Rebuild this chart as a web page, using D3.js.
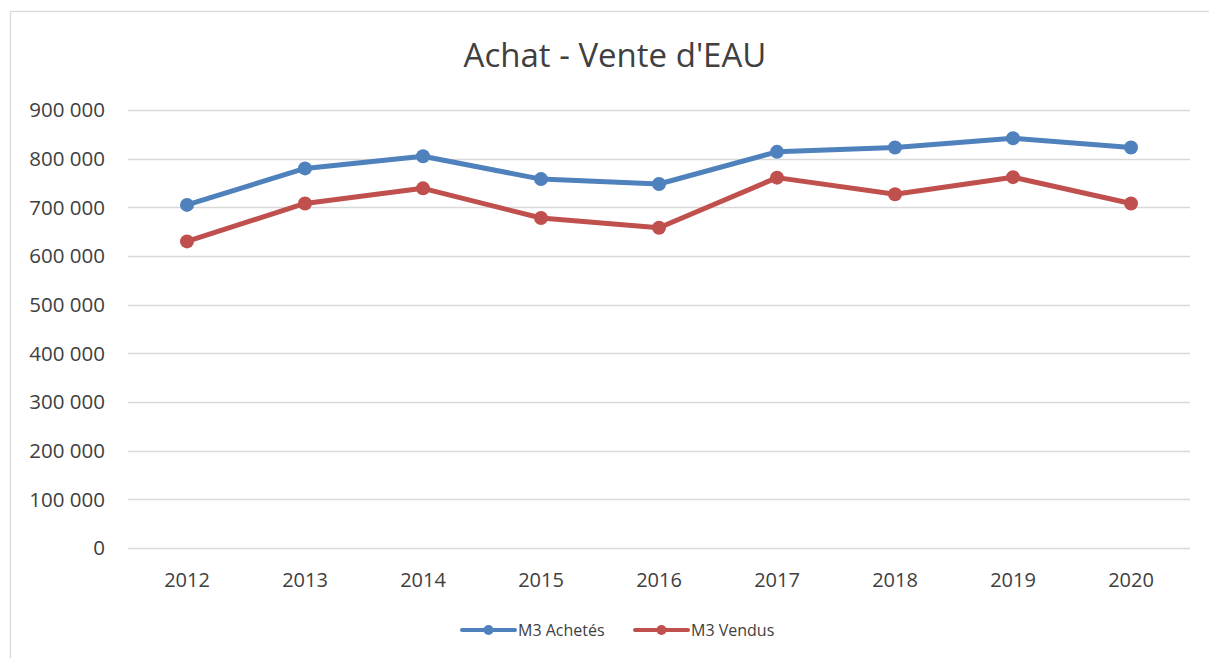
<!DOCTYPE html>
<html>
<head>
<meta charset="utf-8">
<script src="https://cdn.jsdelivr.net/npm/d3@7"></script>
<style>
  body { margin: 0; background: #fff; }
  text { font-family: "Open Sans", "Noto Sans", sans-serif; fill: #404040; }
</style>
</head>
<body>
<div id="chart"></div>
<script>
var years = ["2012", "2013", "2014", "2015", "2016", "2017", "2018", "2019", "2020"];
var achetes = [705000, 780000, 805000, 758000, 748000, 814000, 823000, 842000, 823000];
var vendus = [630000, 708000, 739000, 678000, 658000, 761000, 727000, 762000, 708000];
var yTicks = [0, 100000, 200000, 300000, 400000, 500000, 600000, 700000, 800000, 900000];

var width = 1209, height = 658;
var svg = d3.select("#chart").append("svg").attr("width", width).attr("height", height);

// chart frame
svg.append("rect").attr("x", 10.5).attr("y", 11.5).attr("width", 1220).attr("height", 700)
  .attr("fill", "none").attr("stroke", "#d9d9d9").attr("stroke-width", 1.3);

var x = d3.scaleBand().domain(years).range([128, 1190]);
var y = d3.scaleLinear().domain([0, 900000]).range([548, 110]);

function fmt(d) {
  return d3.format(",")(d).replace(/,/g, " ");
}

// gridlines
svg.append("g").selectAll("line").data(yTicks).enter().append("line")
  .attr("x1", 128).attr("x2", 1190)
  .attr("y1", function(d) { return Math.round(y(d)) + 0.5; })
  .attr("y2", function(d) { return Math.round(y(d)) + 0.5; })
  .attr("stroke", "#d9d9d9").attr("stroke-width", 1.5);

// y labels
svg.append("g").selectAll("text").data(yTicks).enter().append("text")
  .attr("x", 105).attr("y", function(d) { return y(d); })
  .attr("dy", "0.35em").attr("text-anchor", "end")
  .style("font-size", "20.5px").text(fmt);

// x labels
svg.append("g").selectAll("text").data(years).enter().append("text")
  .attr("x", function(d) { return x(d) + x.bandwidth() / 2; })
  .attr("y", 587).attr("text-anchor", "middle")
  .style("font-size", "20px").text(function(d) { return d; });

// title
svg.append("text").attr("x", 615).attr("y", 67).attr("text-anchor", "middle")
  .style("font-size", "33px").text("Achat - Vente d'EAU");

var series = [
  { name: "M3 Achetés", values: achetes, color: "#4f81bd" },
  { name: "M3 Vendus", values: vendus, color: "#c0504d" }
];

var line = d3.line()
  .x(function(d, i) { return x(years[i]) + x.bandwidth() / 2; })
  .y(function(d) { return y(d); });

series.forEach(function(s) {
  svg.append("path").datum(s.values)
    .attr("d", line).attr("fill", "none")
    .attr("stroke", s.color).attr("stroke-width", 5)
    .attr("stroke-linejoin", "round").attr("stroke-linecap", "round");
  svg.append("g").selectAll("circle").data(s.values).enter().append("circle")
    .attr("cx", function(d, i) { return x(years[i]) + x.bandwidth() / 2; })
    .attr("cy", function(d) { return y(d); })
    .attr("r", 7).attr("fill", s.color);
});

// legend
var legendX = [460, 633];
series.forEach(function(s, i) {
  var g = svg.append("g").attr("transform", "translate(" + legendX[i] + ",630)");
  g.append("line").attr("x1", 2).attr("x2", 55).attr("y1", 0).attr("y2", 0)
    .attr("stroke", s.color).attr("stroke-width", 4).attr("stroke-linecap", "round");
  g.append("circle").attr("cx", 28.5).attr("cy", 0).attr("r", 5).attr("fill", s.color);
  g.append("text").attr("x", 58).attr("y", 0).attr("dy", "0.35em")
    .style("font-size", "16px").text(s.name);
});
</script>
</body>
</html>
